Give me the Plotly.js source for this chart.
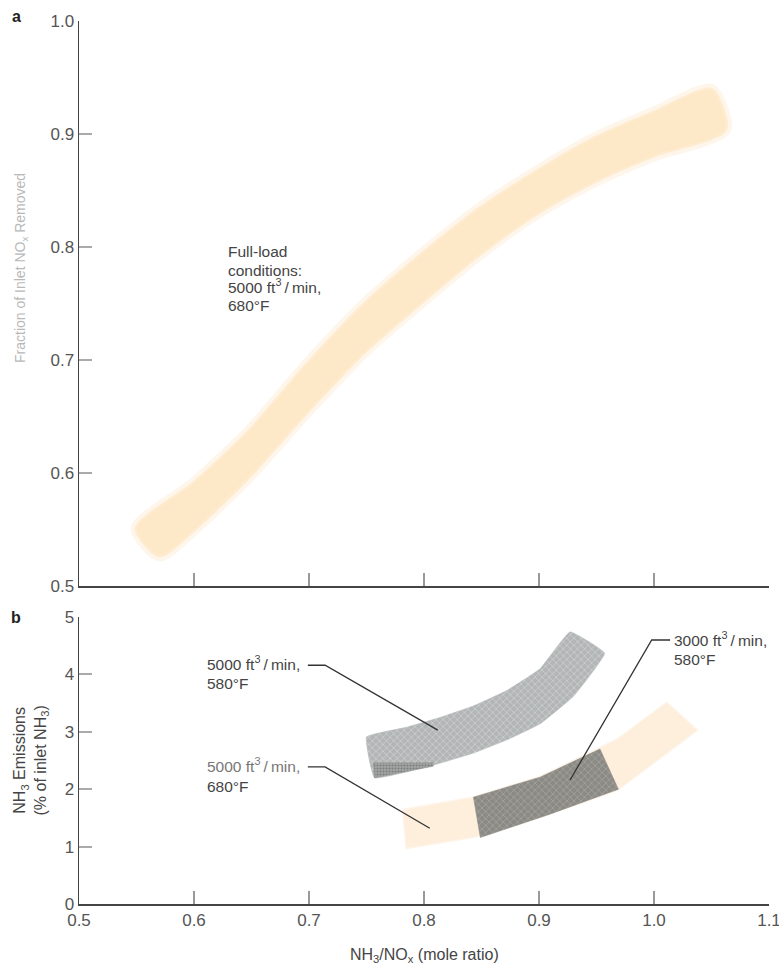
<!DOCTYPE html>
<html>
<head>
<meta charset="utf-8">
<script src="https://cdn.plot.ly/plotly-3.0.1.min.js"></script>
<style>
  html, body { margin: 0; padding: 0; background: #ffffff; }
  #chart { width: 779px; height: 964px; }
</style>
</head>
<body>
<div id="chart"></div>
<script>
// ---------- Data ----------
// Panel a: band of NOx removal (edges of the band)
const aUpperX = [0.550, 0.600, 0.649, 0.700, 0.750, 0.800, 0.850, 0.900, 0.950, 1.000, 1.050];
const aUpperY = [0.551, 0.591, 0.638, 0.698, 0.751, 0.795, 0.835, 0.868, 0.897, 0.919, 0.939];
const aLowerX = [0.570, 0.600, 0.649, 0.700, 0.750, 0.800, 0.850, 0.900, 0.950, 1.000, 1.062];
const aLowerY = [0.527, 0.550, 0.598, 0.656, 0.709, 0.753, 0.795, 0.831, 0.859, 0.881, 0.904];

// Panel b: 5000 ft3/min, 580 F (grey band)
const g580UpperX = [0.750, 0.785, 0.814, 0.843, 0.872, 0.901, 0.927];
const g580UpperY = [2.91, 3.08, 3.25, 3.45, 3.72, 4.10, 4.74];
const g580LowerX = [0.757, 0.808, 0.843, 0.872, 0.901, 0.930, 0.957];
const g580LowerY = [2.20, 2.42, 2.63, 2.86, 3.14, 3.62, 4.37];
// darker fine-textured corner of the grey band
const g580CornerX = [0.756, 0.808, 0.808, 0.757];
const g580CornerY = [2.46, 2.46, 2.40, 2.20];

// Panel b: 5000 ft3/min, 680 F (peach band)
const p680UpperX = [0.782, 0.843, 0.901, 0.968, 1.011];
const p680UpperY = [1.64, 1.85, 2.21, 2.86, 3.50];
const p680LowerX = [0.785, 0.843, 0.901, 0.968, 1.037];
const p680LowerY = [0.98, 1.17, 1.52, 1.99, 3.03];

// Panel b: 3000 ft3/min, 580 F (dark section)
const d3000UpperX = [0.843, 0.901, 0.953];
const d3000UpperY = [1.86, 2.21, 2.70];
const d3000LowerX = [0.849, 0.910, 0.969];
const d3000LowerY = [1.16, 1.57, 2.00];

// Axis ticks
const xTickVals = [0.5, 0.6, 0.7, 0.8, 0.9, 1.0, 1.1];
const xTickText = ['0.5', '0.6', '0.7', '0.8', '0.9', '1.0', '1.1'];
const yATickVals = [0.5, 0.6, 0.7, 0.8, 0.9, 1.0];
const yATickText = ['0.5', '0.6', '0.7', '0.8', '0.9', '1.0'];
const yBTickVals = [0, 1, 2, 3, 4, 5];
const yBTickText = ['0', '1', '2', '3', '4', '5'];

// ---------- Build closed polygons from the edge arrays ----------
function polygon(ux, uy, lx, ly) {
  const xs = ux.concat(lx.slice().reverse(), [ux[0]]);
  const ys = uy.concat(ly.slice().reverse(), [uy[0]]);
  return { x: xs, y: ys };
}
function closed(xs, ys) {
  return { x: xs.concat([xs[0]]), y: ys.concat([ys[0]]) };
}

const FONT = 'Liberation Sans, Arial, Helvetica, sans-serif';

const bandA = polygon(aUpperX, aUpperY, aLowerX, aLowerY);
const band580 = polygon(g580UpperX, g580UpperY, g580LowerX, g580LowerY);
const corner580 = closed(g580CornerX, g580CornerY);
const band680 = polygon(p680UpperX, p680UpperY, p680LowerX, p680LowerY);
const band3000 = polygon(d3000UpperX, d3000UpperY, d3000LowerX, d3000LowerY);

const traces = [
  { // soft halo of the panel-a band
    x: bandA.x, y: bandA.y, xaxis: 'x', yaxis: 'y',
    type: 'scatter', mode: 'lines',
    line: { color: 'rgba(253,236,210,0.45)', width: 12, shape: 'spline', smoothing: 0.7 },
    hoverinfo: 'skip'
  },
  {
    x: bandA.x, y: bandA.y, xaxis: 'x', yaxis: 'y',
    type: 'scatter', mode: 'lines', fill: 'toself',
    fillcolor: '#fde8c8',
    line: { color: 'rgba(253,232,200,0.7)', width: 4, shape: 'spline', smoothing: 0.7 },
    hoverinfo: 'skip'
  },
  {
    x: band580.x, y: band580.y, xaxis: 'x2', yaxis: 'y2',
    type: 'scatter', mode: 'lines', fill: 'toself',
    fillcolor: '#b6b9b9',
    fillpattern: { shape: 'x', bgcolor: '#b3b6b6', fgcolor: '#d2d5d5', size: 5, solidity: 0.25 },
    line: { color: 'rgba(180,183,183,0.6)', width: 1, shape: 'spline', smoothing: 0.3 },
    hoverinfo: 'skip'
  },
  {
    x: corner580.x, y: corner580.y, xaxis: 'x2', yaxis: 'y2',
    type: 'scatter', mode: 'lines', fill: 'toself',
    fillcolor: '#9c9e9e',
    fillpattern: { shape: '.', bgcolor: '#a4a6a6', fgcolor: '#7c7e7e', size: 3, solidity: 0.4 },
    line: { color: 'rgba(150,152,152,0.5)', width: 1 },
    hoverinfo: 'skip'
  },
  {
    x: band680.x, y: band680.y, xaxis: 'x2', yaxis: 'y2',
    type: 'scatter', mode: 'lines', fill: 'toself',
    fillcolor: '#fdefdc',
    line: { color: 'rgba(253,239,220,0.6)', width: 3 },
    hoverinfo: 'skip'
  },
  {
    x: band3000.x, y: band3000.y, xaxis: 'x2', yaxis: 'y2',
    type: 'scatter', mode: 'lines', fill: 'toself',
    fillcolor: '#8f8d88',
    fillpattern: { shape: 'x', bgcolor: '#8c8a85', fgcolor: '#aaa8a3', size: 5, solidity: 0.25 },
    line: { color: 'rgba(140,138,133,0.6)', width: 1 },
    hoverinfo: 'skip'
  }
];

const axisCommon = {
  range: [0.5, 1.1],
  showline: true, linecolor: '#444', linewidth: 1.5,
  ticks: 'inside', ticklen: 13, tickwidth: 2, tickcolor: '#999',
  showgrid: false, zeroline: false, fixedrange: true,
  ticklabeloverflow: 'allow',
  tickfont: { family: FONT, size: 17, color: '#555' }
};

function txt(text, xref, yref, x, y, color) {
  return { text: text, xref: xref, yref: yref, x: x, y: y,
    xanchor: 'left', yanchor: 'middle', align: 'left', showarrow: false,
    font: { family: FONT, size: 15.5, color: color || '#444' } };
}
const FT = 'ft<sup>3</sup>\u2009/\u2009min,';

const layout = {
  width: 779, height: 964,
  margin: { l: 79, r: 10, t: 21, b: 60 },
  paper_bgcolor: '#ffffff', plot_bgcolor: '#ffffff',
  showlegend: false,
  font: { family: FONT, size: 16, color: '#444' },
  xaxis: Object.assign({}, axisCommon, {
    domain: [0, 1], anchor: 'y',
    tickvals: xTickVals, ticktext: xTickText, showticklabels: false
  }),
  yaxis: Object.assign({}, axisCommon, {
    domain: [0.3601, 1], anchor: 'x', range: [0.5, 1.0],
    tickvals: yATickVals, ticktext: yATickText, tickcolor: '#aaa'
  }),
  xaxis2: Object.assign({}, axisCommon, {
    domain: [0, 1], anchor: 'y2',
    tickvals: xTickVals, ticktext: xTickText, showticklabels: true
  }),
  yaxis2: Object.assign({}, axisCommon, {
    domain: [0, 0.325], anchor: 'x2', range: [0, 5],
    tickvals: yBTickVals, ticktext: yBTickText, tickcolor: '#aaa'
  }),
  shapes: [
    { type: 'path', xref: 'x2', yref: 'y2', path: 'M 0.699 4.16 L 0.714 4.16 L 0.812 3.03',
      line: { color: '#333', width: 1.3 } },
    { type: 'path', xref: 'x2', yref: 'y2', path: 'M 0.699 2.39 L 0.714 2.39 L 0.805 1.32',
      line: { color: '#333', width: 1.3 } },
    { type: 'path', xref: 'x2', yref: 'y2', path: 'M 1.014 4.60 L 0.998 4.60 L 0.927 2.16',
      line: { color: '#333', width: 1.3 } }
  ],
  annotations: [
    { text: '<b>a</b>', xref: 'paper', yref: 'paper', x: -0.091, y: 1.005,
      xanchor: 'center', yanchor: 'middle', showarrow: false,
      font: { family: FONT, size: 16, color: '#222' } },
    { text: '<b>b</b>', xref: 'paper', yref: 'paper', x: -0.091, y: 0.325,
      xanchor: 'center', yanchor: 'middle', showarrow: false,
      font: { family: FONT, size: 16, color: '#222' } },
    { text: 'Fraction of Inlet NO<sub>x</sub> Removed', xref: 'paper', yref: 'paper',
      x: -0.083, y: 0.72, xanchor: 'center', yanchor: 'middle', textangle: -90,
      showarrow: false, font: { family: FONT, size: 14, color: '#b8b8b8' } },
    { text: 'NH<sub>3</sub> Emissions<br>(% of inlet NH<sub>3</sub>)', xref: 'paper', yref: 'paper',
      x: -0.069, y: 0.163, xanchor: 'center', yanchor: 'middle', textangle: -90,
      showarrow: false, font: { family: FONT, size: 16, color: '#444' } },
    { text: 'NH<sub>3</sub>/NO<sub>x</sub> (mole ratio)', xref: 'paper', yref: 'paper',
      x: 0.5, y: -0.058, xanchor: 'center', yanchor: 'middle',
      showarrow: false, font: { family: FONT, size: 16, color: '#444' } },
    // panel a note
    txt('Full-load', 'x', 'y', 0.628, 0.7956),
    txt('conditions:', 'x', 'y', 0.628, 0.7796),
    txt('5000 ' + FT, 'x', 'y', 0.628, 0.7655),
    txt('680°F', 'x', 'y', 0.628, 0.7480),
    // panel b labels
    txt('5000 ' + FT, 'x2', 'y2', 0.6096, 4.20),
    txt('580°F', 'x2', 'y2', 0.6096, 3.84),
    txt('5000 ' + FT, 'x2', 'y2', 0.6096, 2.42, '#777'),
    txt('680°F', 'x2', 'y2', 0.6096, 2.05),
    txt('3000 ' + FT, 'x2', 'y2', 1.0157, 4.62),
    txt('580°F', 'x2', 'y2', 1.0157, 4.26)
  ]
};

Plotly.newPlot('chart', traces, layout, { staticPlot: true, displayModeBar: false });
</script>
</body>
</html>
